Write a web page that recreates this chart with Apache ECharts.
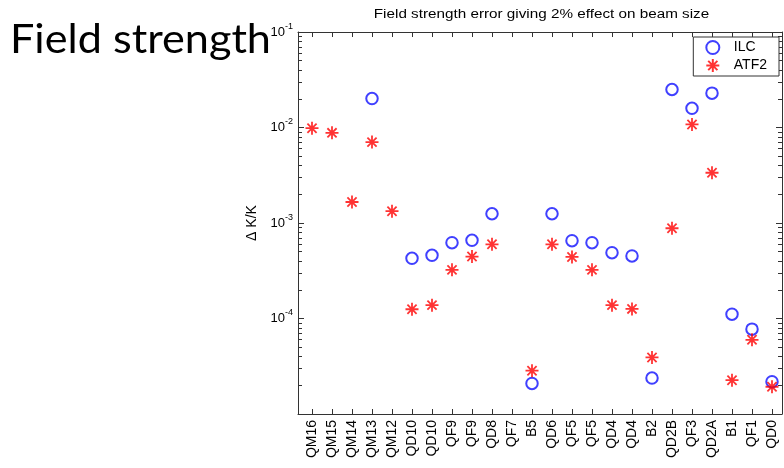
<!DOCTYPE html>
<html>
<head>
<meta charset="utf-8">
<script src="https://cdn.jsdelivr.net/npm/echarts@6/dist/echarts.min.js"></script>
<style>
  html, body { margin: 0; padding: 0; background: #fff; }
  #chart { width: 784px; height: 468px; }
</style>
</head>
<body>
<div id="chart"></div>
<script>
// Magnet names along the beam line
const categories = ['QM16', 'QM15', 'QM14', 'QM13', 'QM12', 'QD10', 'QD10', 'QF9', 'QF9', 'QD8', 'QF7', 'B5',
  'QD6', 'QF5', 'QF5', 'QD4', 'QD4', 'B2', 'QD2B', 'QF3', 'QD2A', 'B1', 'QF1', 'QD0'];

// Relative field strength error (dK/K) giving a 2% beam size effect
const ilc = [null, null, null, 0.0201, null, 4.27e-4, 4.59e-4, 6.22e-4, 6.59e-4, 1.25e-3, null, 2.09e-5,
  1.25e-3, 6.53e-4, 6.22e-4, 4.89e-4, 4.52e-4, 2.38e-5, 0.0250, 0.0159, 0.0229, 1.11e-4, 7.74e-5, 2.18e-5];
const atf2 = [9.84e-3, 8.79e-3, 1.66e-3, 7.03e-3, 1.33e-3, 1.25e-4, 1.38e-4, 3.23e-4, 4.45e-4, 5.98e-4, null, 2.84e-5,
  5.98e-4, 4.41e-4, 3.23e-4, 1.38e-4, 1.26e-4, 3.91e-5, 8.81e-4, 1.077e-2, 3.36e-3, 2.26e-5, 5.98e-5, 1.93e-5];

// Decade exponents of the log axis and minor tick multipliers
const decades = [-5, -4, -3, -2, -1];
const minorMultipliers = [2, 3, 4, 5, 6, 7, 8, 9];

const FONT = 'Liberation Sans, Arial, sans-serif';
const AXIS_COLOR = '#333333';

const positions = categories.map((c, i) => i + 1);
const toPoints = arr => arr.map((v, i) => v == null ? null : [i + 1, v]).filter(p => p);

const minorLogs = [];
decades.slice(0, -1).forEach(d => minorMultipliers.forEach(m => minorLogs.push(d + Math.log10(m))));

const starPath = 'path://M0,-10L0,10M-10,0L10,0M-7.07,-7.07L7.07,7.07M-7.07,7.07L7.07,-7.07';

function xAxisDef(pos, labels) {
  return {
    type: 'value', position: pos, min: 0.3, max: 24.5,
    axisLine: { show: true, lineStyle: { color: AXIS_COLOR, width: 1 } },
    axisTick: { show: true, inside: true, length: 5, customValues: positions, lineStyle: { color: AXIS_COLOR, width: 1 } },
    axisLabel: {
      show: labels, customValues: positions, rotate: 90, margin: 6,
      fontFamily: FONT, fontSize: 14, color: '#000',
      formatter: v => categories[Math.round(v) - 1] || ''
    },
    splitLine: { show: false }
  };
}

function logAxisDef(pos, labels) {
  return {
    type: 'log', logBase: 10, position: pos, min: 1e-5, max: 1e-1,
    axisLine: { show: true, lineStyle: { color: AXIS_COLOR, width: 1 } },
    axisTick: { show: true, inside: true, length: 6, lineStyle: { color: AXIS_COLOR, width: 1 } },
    axisLabel: {
      show: labels, margin: 5, showMinLabel: false,
      formatter: v => '{b|10}{s|' + Math.round(Math.log10(v)) + '}',
      rich: {
        b: { fontFamily: FONT, fontSize: 13, color: '#000', verticalAlign: 'middle' },
        s: { fontFamily: FONT, fontSize: 9, color: '#000', verticalAlign: 'middle', padding: [0, 0, 11, 0] }
      }
    },
    splitLine: { show: false },
    name: labels ? 'Δ K/K' : '', nameLocation: 'middle', nameGap: 33, nameRotate: 90,
    nameTextStyle: { fontFamily: FONT, fontSize: 14, color: '#000' }
  };
}

function minorAxisDef(pos) {
  return {
    type: 'value', position: pos, min: -5, max: -1,
    axisLine: { show: false },
    axisTick: { show: true, inside: true, length: 4, customValues: minorLogs, lineStyle: { color: AXIS_COLOR, width: 1 } },
    axisLabel: { show: false },
    splitLine: { show: false }
  };
}

const chart = echarts.init(document.getElementById('chart'), null, { renderer: 'canvas' });
chart.setOption({
  animation: false,
  backgroundColor: '#fff',
  graphic: [{
    // chart title, drawn slightly widened like the exported figure font
    type: 'text', x: 541.5, y: 8, scaleX: 1.22, z: 100,
    style: {
      text: 'Field strength error giving 2% effect on beam size',
      font: '12.5px "Liberation Sans", Arial, sans-serif', fill: '#000',
      align: 'center', verticalAlign: 'top'
    }
  }, {
    // slide heading
    type: 'text', x: 10, y: 20, scaleX: 1.08, z: 100,
    style: { text: 'Field strength', font: '40px Lato, "Open Sans", sans-serif', fill: '#000', verticalAlign: 'top' }
  }],
  grid: { left: 298, right: 2, top: 32, bottom: 54, containLabel: false },
  xAxis: [xAxisDef('bottom', true), xAxisDef('top', false)],
  yAxis: [logAxisDef('left', true), logAxisDef('right', false), minorAxisDef('left'), minorAxisDef('right')],
  legend: {
    right: 5, top: 37, orient: 'vertical',
    backgroundColor: '#fff', borderColor: AXIS_COLOR, borderWidth: 1, borderRadius: 0,
    padding: [3, 12, 3, 12], itemWidth: 16, itemHeight: 13, itemGap: 3,
    textStyle: { fontFamily: FONT, fontSize: 14, lineHeight: 14, color: '#000', padding: [0, 0, 0, 8] },
    data: ['ILC', 'ATF2']
  },
  series: [{
    name: 'ILC', type: 'scatter', xAxisIndex: 0, yAxisIndex: 0,
    symbol: 'circle', symbolSize: 11.5,
    itemStyle: { color: 'rgba(0,0,0,0)', borderColor: '#1010ff', borderWidth: 2 },
    data: toPoints(ilc)
  }, {
    name: 'ATF2', type: 'scatter', xAxisIndex: 0, yAxisIndex: 0,
    symbol: starPath, symbolSize: 13,
    itemStyle: { color: '#ff0000', borderColor: '#ff0000', borderWidth: 1.8 },
    data: toPoints(atf2)
  }]
});
</script>
</body>
</html>
